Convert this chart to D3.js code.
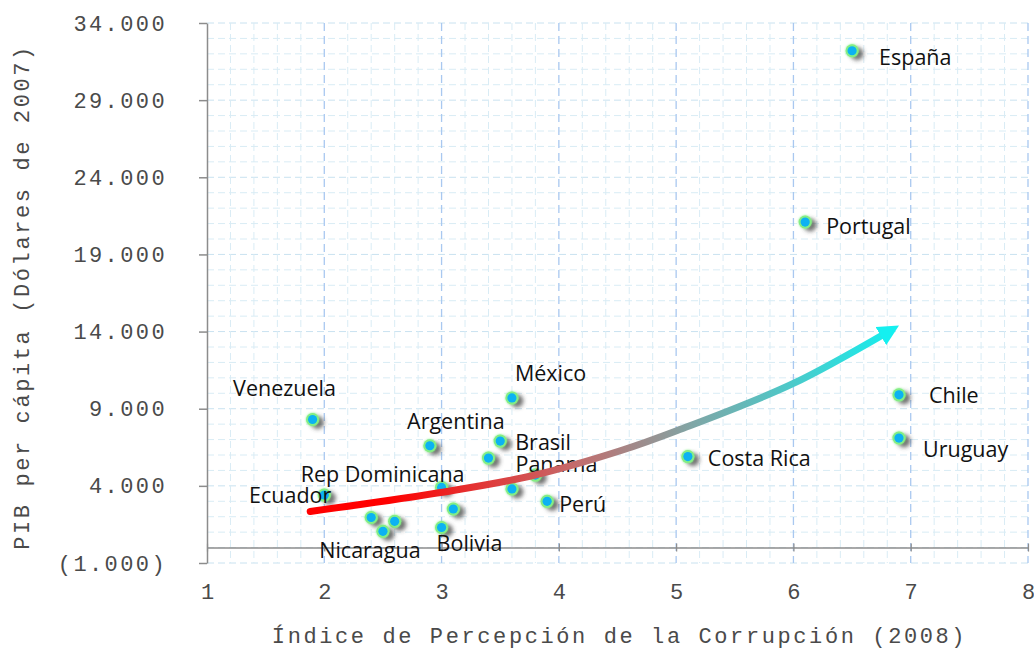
<!DOCTYPE html>
<meta charset="utf-8" />
<script src="https://d3js.org/d3.v7.min.js"></script>
<body style="margin:0;background:#fff">
<svg id="chart" width="1034" height="650"></svg>
<script>
/* ── DATA ── */
const countries = ["España","Portugal","México","Venezuela","Argentina","Brasil","Panamá","","",
  "Rep Dominicana","Ecuador","Perú","","","","Nicaragua","Bolivia","Costa Rica","Chile","Uruguay"];
const ipc = [6.5,6.1,3.6,1.9,2.9,3.5,3.4,3.8,3.6,3.0,2.0,3.9,3.1,2.4,2.6,2.5,3.0,5.1,6.9,6.9];
const pib = [32200,21100,9700,8300,6600,6900,5800,4700,3800,3900,3400,3000,2500,1950,1700,1050,1300,5900,9900,7100];

// trend arrow
const trendX = [1.88,2.99,3.78,4.53,5.01,6.0,6.9];
const trendY = [2340,3570,4670,6290,7590,10640,14400];

const xTicks = [1,2,3,4,5,6,7,8];
const yTicks = [-1000,4000,9000,14000,19000,24000,29000,34000];

/* label placement: dx, dy, anchor */
const labelPos = {
  "España":[27,6,"start"], "Portugal":[21,3,"start"], "México":[3,-25,"start"],
  "Venezuela":[-28,-32,"middle"], "Argentina":[26,-25,"middle"], "Brasil":[15,0,"start"],
  "Panamá":[27,5,"start"], "Rep Dominicana":[23,-14,"end"], "Ecuador":[7,-1,"end"],
  "Perú":[12,2,"start"], "Nicaragua":[-13,18,"middle"], "Bolivia":[-5,15,"start"],
  "Costa Rica":[20,1,"start"], "Chile":[30,0,"start"], "Uruguay":[24,10,"start"]
};

const W = 1034, H = 650,
      m = {left:207, right:6, top:23, bottom:87};
const mono = "'Liberation Mono','Courier New',monospace";

const svg = d3.select("#chart");
const x = d3.scaleLinear([1,8],[m.left, W-m.right]);
const y = d3.scaleLinear([-1000,34000],[H-m.bottom, m.top]);

const defs = svg.append("defs");
const shadow = defs.append("filter").attr("id","shadow")
  .attr("x","-100%").attr("y","-100%").attr("width","300%").attr("height","300%");
shadow.append("feDropShadow").attr("dx",5).attr("dy",3).attr("stdDeviation",2.2)
  .attr("flood-color","#444").attr("flood-opacity",0.75);
const glow = defs.append("filter").attr("id","glow")
  .attr("x","-50%").attr("y","-50%").attr("width","200%").attr("height","200%");
glow.append("feGaussianBlur").attr("stdDeviation",0.8);

const grad = defs.append("linearGradient").attr("id","trendGrad")
  .attr("gradientUnits","userSpaceOnUse")
  .attr("x1",x(trendX[0])).attr("x2",x(trendX[trendX.length-1]))
  .attr("y1",0).attr("y2",0);
grad.append("stop").attr("offset",0).attr("stop-color","#ff0000");
grad.append("stop").attr("offset",0.13).attr("stop-color","#ff0000");
grad.append("stop").attr("offset",0.45).attr("stop-color","#c46c6c");
grad.append("stop").attr("offset",0.65).attr("stop-color","#7fa6a6");
grad.append("stop").attr("offset",1).attr("stop-color","#14f0f0");

defs.append("marker").attr("id","head")
  .attr("viewBox","0 0 10 10").attr("refX",10).attr("refY",5)
  .attr("markerUnits","userSpaceOnUse").attr("markerWidth",21).attr("markerHeight",21)
  .attr("orient","auto")
  .append("path").attr("d","M0,0L10,5L0,10Z").attr("fill","#14f0f0");

/* ── GRID ── */
const grid = svg.append("g");
grid.selectAll("line.hy").data(d3.range(-1000,34001,1000)).join("line")
  .attr("x1",x(1)).attr("x2",x(8)).attr("y1",d=>y(d)).attr("y2",d=>y(d))
  .attr("stroke",d=>(d+1000)%5000===0?"#c9e2f0":"#d9ecf5")
  .attr("stroke-dasharray","7,4").attr("stroke-width",1);
grid.selectAll("line.vx").data(d3.range(10,81,2).map(d=>d/10).filter(d=>d%1!==0)).join("line")
  .attr("x1",d=>x(d)).attr("x2",d=>x(d)).attr("y1",y(34000)).attr("y2",y(-1000))
  .attr("stroke","#d9ecf5").attr("stroke-dasharray","7,4");
svg.append("g").selectAll("line").data(xTicks.slice(1)).join("line")
  .attr("x1",d=>x(d)).attr("x2",d=>x(d)).attr("y1",y(34000)).attr("y2",y(-1000))
  .attr("stroke","#a9c8f0").attr("stroke-width",1.3).attr("stroke-dasharray","8,5");

/* ── AXES ── */
const fmt = v => {
  const t = d3.format(",.0f")(Math.abs(v)).replace(/,/g,".");
  return v<0 ? `(${t})` : t;
};

const yAx = svg.append("g").attr("transform",`translate(${m.left},0)`)
  .call(d3.axisLeft(y).tickValues(yTicks).tickFormat(fmt).tickSizeInner(8).tickSizeOuter(0).tickPadding(32));
yAx.select(".domain").attr("stroke","#8c8c8c").attr("stroke-width",1.5);
yAx.selectAll(".tick line").attr("stroke","#8c8c8c").attr("stroke-width",1.5);
yAx.selectAll("text").attr("font-family",mono).attr("font-size",22)
  .attr("letter-spacing",2.4).attr("fill","#4a4a4a");

const xAx = svg.append("g").attr("transform",`translate(0,${y(0)})`)
  .call(d3.axisBottom(x).tickValues(xTicks).tickFormat(d3.format("d")).tickSizeInner(4).tickSizeOuter(0).tickPadding(32));
xAx.select(".domain").attr("stroke","#8c8c8c").attr("stroke-width",1.5);
xAx.selectAll(".tick line").attr("y1",-4).attr("stroke","#8c8c8c").attr("stroke-width",1.2);
xAx.selectAll("text").attr("font-family",mono).attr("font-size",22).attr("fill","#4a4a4a");

svg.append("text").attr("x",(x(1)+x(8))/2+2).attr("y",643).attr("text-anchor","middle")
  .attr("font-family",mono).attr("font-size",22).attr("letter-spacing",2.6).attr("fill","#4a4a4a")
  .text("Índice de Percepción de la Corrupción (2008)");
svg.append("text").attr("transform",`translate(29,${297}) rotate(-90)`).attr("text-anchor","middle")
  .attr("font-family",mono).attr("font-size",22).attr("letter-spacing",2.6).attr("fill","#4a4a4a")
  .text("PIB per cápita (Dólares de 2007)");

/* ── POINTS ── */
const data = countries.map((c,i)=>({c, x:ipc[i], y:pib[i]}));
const pts = svg.append("g").selectAll("g").data(data).join("g")
  .attr("transform",d=>`translate(${x(d.x)},${y(d.y)})`);
pts.append("circle").attr("r",6.5).attr("fill","#7be87b").attr("filter","url(#shadow)");
pts.append("circle").attr("r",6.5).attr("fill","#86f086").attr("filter","url(#glow)");
pts.append("circle").attr("r",4.6).attr("fill","#0cb2f2");

svg.append("g").selectAll("text").data(data.filter(d=>d.c)).join("text")
  .attr("x",d=>x(d.x)+labelPos[d.c][0]).attr("y",d=>y(d.y)+labelPos[d.c][1])
  .attr("text-anchor",d=>labelPos[d.c][2]).attr("dominant-baseline","central")
  .attr("font-family","'Open Sans',sans-serif").attr("font-size",21.5).attr("fill","#111")
  .text(d=>d.c);

/* ── TREND ARROW ── */
const line = d3.line().x(d=>x(d[0])).y(d=>y(d[1])).curve(d3.curveCatmullRom);
const tp = svg.append("path").datum(d3.zip(trendX,trendY))
  .attr("d",line).attr("fill","none").attr("stroke","url(#trendGrad)")
  .attr("stroke-width",7).attr("stroke-linecap","round")
  .attr("marker-end","url(#head)");
const L = tp.node().getTotalLength();
tp.attr("stroke-dasharray",`${L-14},10000`);
</script>
</body>
